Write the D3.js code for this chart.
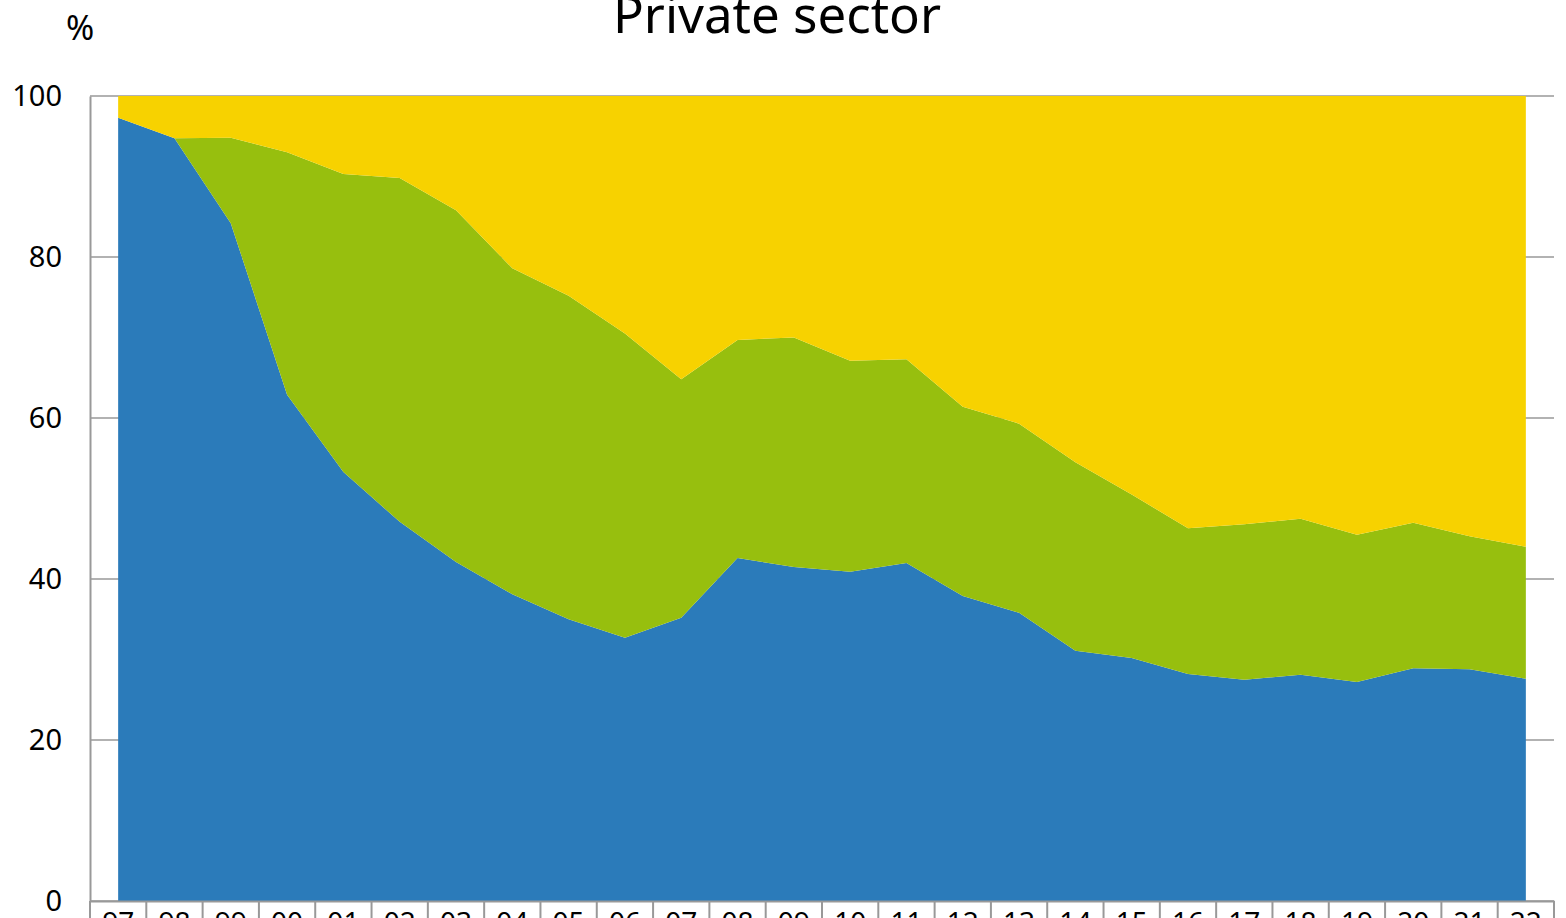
<!DOCTYPE html>
<html>
<head>
<meta charset="utf-8">
<script src="https://cdn.jsdelivr.net/npm/d3@7"></script>
<style>
    body { margin: 0; background: #fff; overflow: hidden; }
    #chart { width: 1566px; height: 918px; }
    text { font-family: "Noto Sans", sans-serif; fill: #000; }
</style>
</head>
<body>
<div id="chart"></div>
<script>
// years shown on the category axis
let years = ["97", "98", "99", "00", "01", "02", "03", "04", "05", "06", "07", "08", "09",
    "10", "11", "12", "13", "14", "15", "16", "17", "18", "19", "20", "21", "22"];

// shares in %, bottom to top
let blueShare = [97.3, 94.75, 84.2, 62.9, 53.3, 47.1, 42.1, 38.1, 35.0, 32.7, 35.2, 42.6, 41.5,
    40.9, 42.0, 37.9, 35.8, 31.1, 30.2, 28.2, 27.5, 28.1, 27.2, 28.9, 28.8, 27.6];
let greenShare = [0, 0, 10.6, 30.1, 37.0, 42.7, 43.7, 40.5, 40.2, 37.8, 29.6, 27.1, 28.5,
    26.2, 25.3, 23.5, 23.5, 23.4, 20.3, 18.1, 19.3, 19.4, 18.3, 18.1, 16.5, 16.4];
let yellowShare = [2.7, 5.25, 5.2, 7.0, 9.7, 10.2, 14.2, 21.4, 24.8, 29.5, 35.2, 30.3, 30.0,
    32.9, 32.7, 38.6, 40.7, 45.5, 49.5, 53.7, 53.2, 52.5, 54.5, 53.0, 54.7, 56.0];

let yTicks = [0, 20, 40, 60, 80, 100];

let keys = ["blue", "green", "yellow"];
let colors = {blue: "#2b7bba", green: "#97bf0e", yellow: "#f7d200"};

let margin = {top: 96, right: 12, bottom: 17, left: 90};
let width = 1566 - margin.left - margin.right,
    height = 918 - margin.top - margin.bottom;

let svg = d3.select("#chart").append("svg")
    .attr("width", 1566)
    .attr("height", 918)
    .append("g")
    .attr("transform", "translate(" + margin.left + "," + margin.top + ")");

// build table for the stack
let rows = years.map((y, i) => ({
    year: y,
    blue: blueShare[i],
    green: greenShare[i],
    yellow: yellowShare[i]
}));

let series = d3.stack().keys(keys)(rows);

let x = d3.scaleBand()
    .domain(years)
    .range([0, width])
    .padding(0);

let y = d3.scaleLinear()
    .domain([0, 100])
    .range([height, 0]);

let cx = d => x(d.data.year) + x.bandwidth() / 2;

// gridlines
svg.append("g")
    .selectAll("line")
    .data(yTicks)
    .enter()
    .append("line")
    .attr("x1", 0)
    .attr("x2", width)
    .attr("y1", d => y(d))
    .attr("y2", d => y(d))
    .style("stroke", "#999")
    .style("stroke-width", 1.5);

// stacked areas
let area = d3.area()
    .x(cx)
    .y0(d => y(d[0]))
    .y1(d => y(d[1]));

svg.selectAll(".layer")
    .data(series)
    .enter()
    .append("path")
    .attr("class", "layer")
    .attr("d", area)
    .style("fill", d => colors[d.key])
    .style("stroke", "none");

// left axis
svg.append("g")
    .call(d3.axisLeft(y).tickValues(yTicks).tickSize(0).tickPadding(28))
    .call(g => g.select(".domain").style("stroke", "#999").style("stroke-width", 2))
    .selectAll("text")
    .style("font-family", "'Noto Sans', sans-serif")
    .style("font-size", "29px")
    .style("fill", "#000");

// bottom axis with category separators
let xAxis = svg.append("g")
    .attr("transform", "translate(0," + height + ")")
    .call(d3.axisBottom(x).tickSize(0).tickPadding(11));

xAxis.select(".domain").style("stroke", "#999").style("stroke-width", 2);
xAxis.selectAll("text")
    .style("font-family", "'Noto Sans', sans-serif")
    .style("font-size", "28px")
    .style("fill", "#000");

xAxis.selectAll(".sep")
    .data(years.concat(["end"]))
    .enter()
    .append("line")
    .attr("class", "sep")
    .attr("x1", d => d === "end" ? width : x(d))
    .attr("x2", d => d === "end" ? width : x(d))
    .attr("y1", 0)
    .attr("y2", 40)
    .style("stroke", "#999")
    .style("stroke-width", 2);

// title and unit
svg.append("text")
    .attr("x", 777 - margin.left)
    .attr("y", 33 - margin.top)
    .style("text-anchor", "middle")
    .style("font-size", "51px")
    .text("Private sector");

svg.append("text")
    .attr("x", 80 - margin.left)
    .attr("y", 40 - margin.top)
    .style("text-anchor", "middle")
    .style("font-size", "34px")
    .text("%");
</script>
</body>
</html>
